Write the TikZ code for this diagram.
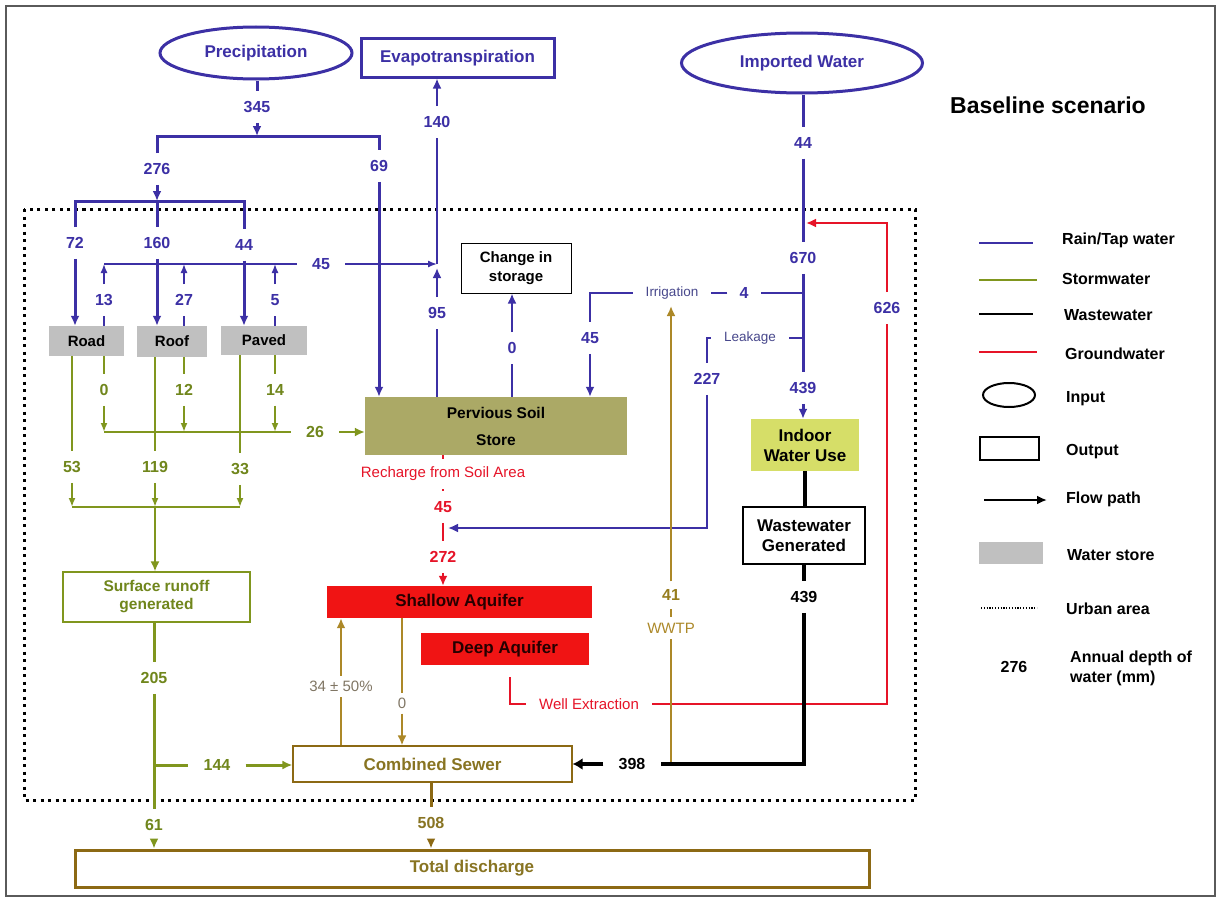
\documentclass[tikz,border=0pt]{standalone}
\usepackage{fontspec}
\setmainfont{Liberation Sans}
\usetikzlibrary{arrows.meta,shapes.geometric}

\definecolor{rain}{RGB}{60,48,165}
\definecolor{rainlbl}{RGB}{72,72,140}
\definecolor{storm}{RGB}{128,150,30}
\definecolor{stormtxt}{RGB}{112,134,28}
\definecolor{sewer}{RGB}{140,105,20}
\definecolor{sewertxt}{RGB}{136,116,34}
\definecolor{wwtp}{RGB}{172,136,40}
\definecolor{wwtptxt}{RGB}{150,125,30}
\definecolor{gw}{RGB}{230,20,40}
\definecolor{soil}{RGB}{171,169,102}
\definecolor{indoor}{RGB}{214,222,104}
\definecolor{store}{RGB}{192,192,192}
\definecolor{aquifer}{RGB}{240,20,20}
\definecolor{framegray}{RGB}{90,90,90}
\definecolor{pmgray}{RGB}{128,118,100}

\begin{document}
\begin{tikzpicture}[x=1pt,y=-1pt,
  >={Latex[length=10pt,width=9pt]},
  smallhead/.style={-{Latex[length=9pt,width=7pt]}},
  lbl/.style={font=\fontsize{16}{18}\selectfont\bfseries, inner xsep=15pt, inner ysep=10pt},
  sml/.style={font=\fontsize{13.5}{16}\selectfont, inner xsep=13pt, inner ysep=6pt},
  blbl/.style={lbl, text=rain},
  glbl/.style={lbl, text=stormtxt},
  rlbl/.style={lbl, text=gw},
  klbl/.style={lbl, text=black},
  boxtxt/.style={font=\fontsize{15}{19}\selectfont\bfseries, align=center, inner sep=0pt},
  bigtxt/.style={font=\fontsize{17}{20}\selectfont\bfseries},
  inputnode/.style={ellipse, draw=rain, line width=3pt, text=rain, bigtxt, inner sep=0pt},
  outputnode/.style={rectangle, draw=rain, line width=3pt, text=rain, bigtxt, inner sep=0pt},
  storenode/.style={boxtxt, rectangle, fill=store, text=black},
  rainthick/.style={draw=rain, line width=3pt},
  rainmid/.style={draw=rain, line width=2.2pt},
  rainthin/.style={draw=rain, line width=1.4pt},
  stormthin/.style={draw=storm, line width=1.8pt},
  stormthick/.style={draw=storm, line width=3pt},
  sewerflow/.style={draw=sewer, line width=3pt},
  sewerthin/.style={draw=wwtp, line width=2pt},
  wastewater/.style={draw=black, line width=3.5pt},
  groundwater/.style={draw=gw, line width=2pt},
  urban/.style={draw=black, line width=3pt, dash pattern=on 3pt off 4.5pt},
  legtxt/.style={font=\fontsize{16}{20}\selectfont\bfseries, inner sep=0pt, anchor=west, align=left},
]
\useasboundingbox (0,0) rectangle (1222,899);
\fill[white] (0,0) rectangle (1222,899);
\draw[framegray, line width=1.5pt] (6,6) rectangle (1215,896);

% urban area boundary
\draw[urban] (24,209) rectangle (915,800);

% ---------- inputs and outputs at the top ----------
\node[inputnode, minimum width=192pt, minimum height=52pt] (precip) at (256,53) {Precipitation};
\node[outputnode, minimum width=193pt, minimum height=38pt] (evapo) at (457.5,58) {Evapotranspiration};
\node[inputnode, minimum width=241pt, minimum height=60pt] (imported) at (802,63) {Imported Water};
\node[font=\fontsize{23}{27}\selectfont\bfseries] (title) at (1048,105) {Baseline scenario};

% ---------- stores and boxes ----------
\node[storenode, minimum width=75pt, minimum height=30pt] (road) at (86.5,341) {Road};
\node[storenode, minimum width=70pt, minimum height=31pt] (roof) at (172,341.5) {Roof};
\node[storenode, minimum width=86pt, minimum height=29pt] (paved) at (264,340.5) {Paved};
\node[boxtxt, fill=soil, minimum width=262pt, minimum height=58pt,
      font=\fontsize{15.5}{27}\selectfont\bfseries] (soil) at (496,426) {Pervious Soil\\Store};
\node[boxtxt, draw=black, line width=1pt, minimum width=110pt, minimum height=50pt] (dstore) at (516,268) {Change in\\storage};
\node[boxtxt, fill=indoor, minimum width=108pt, minimum height=52pt,
      font=\fontsize{17}{20}\selectfont\bfseries] (indoor) at (805,445) {Indoor\\Water Use};
\node[boxtxt, draw=black, line width=1.2pt, minimum width=122pt, minimum height=57pt,
      font=\fontsize{17}{20}\selectfont\bfseries] (wwg) at (804,535.5) {Wastewater\\Generated};
\node[boxtxt, draw=storm, line width=1.2pt, text=stormtxt, minimum width=187pt, minimum height=50pt,
      font=\fontsize{15.5}{18}\selectfont\bfseries] (runoff) at (156.5,597) {Surface runoff\\generated};
\node[boxtxt, fill=aquifer, text=black!85!red, minimum width=265pt, minimum height=32pt,
      font=\fontsize{17}{20}\selectfont\bfseries] (shallow) at (459.5,602) {Shallow Aquifer};
\node[boxtxt, fill=aquifer, text=black!85!red, minimum width=168pt, minimum height=32pt,
      font=\fontsize{17}{20}\selectfont\bfseries] (deep) at (505,649) {Deep Aquifer};
\node[boxtxt, draw=sewer, line width=1.2pt, text=sewertxt, minimum width=279pt, minimum height=36pt,
      font=\fontsize{17}{20}\selectfont\bfseries] (sewer) at (432.5,764) {Combined Sewer};
\node[boxtxt, draw=sewer, line width=3pt, text=sewertxt, minimum width=794pt, minimum height=37pt,
      font=\fontsize{17}{20}\selectfont\bfseries] (total) at (472,868.5) {Total discharge};

% ---------- precipitation split ----------
\node[blbl] (n345) at (257,107) {345};
\coordinate (b1) at (257,136);
\draw[rainthick] (n345 |- precip.south) -- (n345);
\draw[rainthick,->] (n345) -- (b1);
\node[blbl] (n276) at (157,169) {276};
\node[blbl] (n69) at (379,166) {69};
\draw[rainthick] (n276) |- (b1) -| (n69);
\draw[rainthick,->] (n69) -- (n69 |- soil.north);

\coordinate (b2) at (157,201);
\draw[rainthick,->] (n276) -- (b2);
\node[blbl] (n72) at (75,243) {72};
\node[blbl] (n160) at (157,243) {160};
\node[blbl] (n44a) at (244,245) {44};
\draw[rainthick] (n72) |- (b2) -| (n44a);
\draw[rainthick] (b2) -- (n160);
\draw[rainthick,->] (n72) -- (n72 |- road.north);
\draw[rainthick,->] (n160) -- (n160 |- roof.north);
\draw[rainthick,->] (n44a) -- (n44a |- paved.north);

% ---------- evaporation from impervious surfaces ----------
\node[blbl] (n13) at (104,300) {13};
\node[blbl] (n27) at (184,300) {27};
\node[blbl] (n5) at (275,300) {5};
\node[blbl] (n45a) at (321,264) {45};
\coordinate (j45L) at (104,264);
\coordinate (jET) at (437,264);
\coordinate (jET2) at (437,268);
\draw[rainthin] (n13 |- road.north) -- (n13);
\draw[rainthin] (n27 |- roof.north) -- (n27);
\draw[rainthin] (n5 |- paved.north) -- (n5);
\draw[rainthin,smallhead] (n13) -- (j45L);
\draw[rainthin,smallhead] (n27) -- (n27 |- j45L);
\draw[rainthin,smallhead] (n5) -- (n5 |- j45L);
\draw[rainthin] (j45L) -- (n45a);
\draw[rainthin,smallhead] (n45a) -- (jET);

% ---------- evapotranspiration ----------
\node[blbl] (n140) at (437,122) {140};
\node[blbl] (n95) at (437,313) {95};
\draw[rainmid,->] (n140) -- (n140 |- evapo.south);
\draw[rainmid] (jET) -- (n140);
\draw[rainmid,->] (n95) -- (jET2);
\draw[rainmid] (n95 |- soil.north) -- (n95);

% ---------- change in storage ----------
\node[blbl] (n0a) at (512,348) {0};
\draw[rainmid] (n0a |- soil.north) -- (n0a);
\draw[rainmid,->] (n0a) -- (n0a |- dstore.south);

% ---------- imported water ----------
\node[blbl] (n44c) at (803,143) {44};
\node[blbl] (n670) at (803,258) {670};
\node[blbl] (n439a) at (803,388) {439};
\draw[rainthick] (n44c |- imported.south) -- (n44c);
\draw[rainthick] (n44c) -- (n670);
\draw[rainthick] (n670) -- (n439a);
\draw[rainthick,->] (n439a) -- (n439a |- indoor.north);

% irrigation
\node[blbl] (n45b) at (590,338) {45};
\node[sml, text=rainlbl] (nirr) at (672,293) {Irrigation};
\node[blbl, inner xsep=12pt] (n4) at (744,293) {4};
\coordinate (jIrr) at (803,293);
\draw[rainmid] (jIrr) -- (n4);
\draw[rainmid] (n4) -- (nirr);
\draw[rainmid] (nirr) -| (n45b);
\draw[rainmid,->] (n45b) -- (n45b |- soil.north);

% leakage
\node[sml, text=rainlbl] (nleak) at (750,338) {Leakage};
\node[blbl] (n227) at (707,379) {227};
\coordinate (jLeak) at (803,338);
\coordinate (jRch) at (448,528);
\draw[rainmid] (jLeak) -- (nleak);
\draw[rainmid] (nleak) -| (n227);
\draw[rainmid,->] (n227) |- (jRch);

% ---------- stormwater ----------
\node[glbl] (n53) at (72,467) {53};
\node[glbl] (n119) at (155,467) {119};
\node[glbl] (n33) at (240,469) {33};
\coordinate (b3) at (155,507);
\draw[stormthin] (n53 |- road.south) -- (n53);
\draw[stormthin] (n119 |- roof.south) -- (n119);
\draw[stormthin] (n33 |- paved.south) -- (n33);
\draw[stormthin,smallhead] (n53) -- (n53 |- b3);
\draw[stormthin,smallhead] (n119) -- (b3);
\draw[stormthin,smallhead] (n33) -- (n33 |- b3);
\draw[stormthin] (n53 |- b3) -- (n33 |- b3);
\draw[stormthin,->] (b3) -- (b3 |- runoff.north);

\node[glbl] (n0c) at (104,390) {0};
\node[glbl] (n12) at (184,390) {12};
\node[glbl] (n14) at (275,390) {14};
\coordinate (j26L) at (104,432);
\node[glbl] (n26) at (315,432) {26};
\draw[stormthin] (n0c |- road.south) -- (n0c);
\draw[stormthin] (n12 |- roof.south) -- (n12);
\draw[stormthin] (n14 |- paved.south) -- (n14);
\draw[stormthin,smallhead] (n0c) -- (j26L);
\draw[stormthin,smallhead] (n12) -- (n12 |- j26L);
\draw[stormthin,smallhead] (n14) -- (n14 |- j26L);
\draw[stormthin] (j26L) -- (n26);
\draw[stormthin,->] (n26) -- (n26 -| soil.west);

\node[glbl] (n205) at (154,678) {205};
\node[glbl] (n61) at (154,825) {61};
\coordinate (j144) at (154,765);
\node[glbl] (n144) at (217,765) {144};
\draw[stormthick] (n205 |- runoff.south) -- (n205);
\draw[stormthick] (n205) -- (n61);
\draw[stormthick,->] (n61) -- (n61 |- total.north);
\draw[stormthick] (j144) -- (n144);
\draw[stormthick,->] (n144) -- (n144 -| sewer.west);

% ---------- groundwater ----------
\node[sml, text=gw, inner ysep=8pt, font=\fontsize{15}{17}\selectfont] (nrch) at (443,474) {Recharge from Soil Area};
\node[rlbl] (n45r) at (443,507) {45};
\node[rlbl] (n272) at (443,557) {272};
\draw[groundwater] (nrch |- soil.south) -- (nrch);
\draw[groundwater] (nrch) -- (n45r);
\draw[groundwater] (n45r) -- (n272);
\draw[groundwater,->] (n272) -- (n272 |- shallow.north);

\coordinate (jw1) at (510,677);
\node[sml, text=gw, font=\fontsize{15}{17}\selectfont] (nwell) at (589,704) {Well Extraction};
\node[blbl] (n626) at (887,308) {626};
\coordinate (jgw) at (806,223);
\draw[groundwater] (jw1) |- (nwell);
\draw[groundwater] (nwell) -| (n626);
\draw[groundwater,->] (n626) |- (jgw);

% aquifer -- sewer exchange
\node[sml, text=pmgray, inner ysep=5pt, font=\fontsize{15}{17}\selectfont] (n34) at (341,686) {34 ± 50\%};
\node[sml, text=pmgray, inner ysep=5pt, font=\fontsize{15}{17}\selectfont] (n0b) at (402,703) {0};
\draw[sewerthin,->] (n34) -- (n34 |- shallow.south);
\draw[sewerthin] (n34 |- sewer.north) -- (n34);
\draw[sewerthin] (n0b |- shallow.south) -- (n0b);
\draw[sewerthin,->] (n0b) -- (n0b |- sewer.north);

% ---------- treated wastewater reuse ----------
\node[lbl, text=wwtptxt, inner ysep=8pt] (n41) at (671,595) {41};
\node[sml, text=wwtp, font=\fontsize{15}{17}\selectfont] (nwwtp) at (671,628) {WWTP};
\coordinate (j41B) at (671,764);
\coordinate (j41T) at (671,306);
\draw[sewerthin] (j41B) -- (nwwtp);
\draw[sewerthin] (nwwtp) -- (n41);
\draw[sewerthin,->] (n41) -- (j41T);

% ---------- wastewater ----------
\node[klbl] (n439b) at (804,597) {439};
\node[klbl] (n398) at (632,764) {398};
\draw[wastewater] (indoor.south) -- (indoor.south |- wwg.north);
\draw[wastewater] (n439b |- wwg.south) -- (n439b);
\draw[wastewater] (n439b) |- (n398);
\draw[wastewater,-{Latex[length=10pt,width=12pt]}] (n398) -- (sewer.east);

% ---------- discharge ----------
\node[lbl, text=sewertxt] (n508) at (431,823) {508};
\draw[sewerflow] (n508 |- sewer.south) -- (n508);
\draw[sewerflow,->] (n508) -- (n508 |- total.north);

% ---------- legend ----------
\coordinate (lga1) at (979,243);  \coordinate (lga2) at (1033,243);
\draw[rain, line width=2pt] (lga1) -- (lga2);
\node[legtxt] (lgt1) at (1062,240) {Rain/Tap water};
\coordinate (lgb1) at (979,280);  \coordinate (lgb2) at (1037,280);
\draw[storm, line width=2pt] (lgb1) -- (lgb2);
\node[legtxt] (lgt2) at (1062,279) {Stormwater};
\coordinate (lgc1) at (979,314);  \coordinate (lgc2) at (1033,314);
\draw[black, line width=2pt] (lgc1) -- (lgc2);
\node[legtxt] (lgt3) at (1064,315) {Wastewater};
\coordinate (lgd1) at (979,352);  \coordinate (lgd2) at (1037,352);
\draw[gw, line width=2pt] (lgd1) -- (lgd2);
\node[legtxt] (lgt4) at (1065,354) {Groundwater};
\node[ellipse, draw=black, line width=2pt, minimum width=52pt, minimum height=24pt, inner sep=0pt] (lgin) at (1009,395) {};
\node[legtxt] (lgt5) at (1066,399) {Input};
\node[rectangle, draw=black, line width=2pt, minimum width=59pt, minimum height=23pt, inner sep=0pt] (lgout) at (1009.5,448.5) {};
\node[legtxt] (lgt6) at (1066,452) {Output};
\coordinate (lgf1) at (984,500);  \coordinate (lgf2) at (1047,500);
\draw[black, line width=2pt, -{Latex[length=10pt,width=9pt]}] (lgf1) -- (lgf2);
\node[legtxt] (lgt7) at (1066,499) {Flow path};
\node[rectangle, fill=store, minimum width=64pt, minimum height=22pt, inner sep=0pt] (lgst) at (1011,553) {};
\node[legtxt] (lgt8) at (1067,555) {Water store};
\coordinate (lgh1) at (981,608);  \coordinate (lgh2) at (1037,608);
\draw[black, line width=1.2pt, dash pattern=on 1.2pt off 1.6pt] (lgh1) -- (lgh2);
\node[legtxt] (lgt9) at (1066,609) {Urban area};
\node[font=\fontsize{16}{20}\selectfont\bfseries] (lgnum) at (1014,667) {276};
\node[legtxt] (lgt10) at (1070,668) {Annual depth of\\water (mm)};
\end{tikzpicture}
\end{document}
